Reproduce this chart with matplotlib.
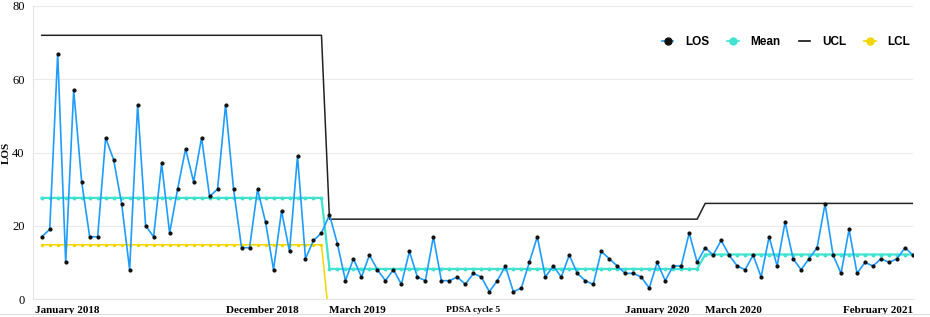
import numpy as np
import matplotlib
matplotlib.use("Agg")
import matplotlib.pyplot as plt
import matplotlib.transforms as mtransforms
from matplotlib.lines import Line2D

# LOS per point, three phases
los = [17, 19, 67, 10, 57, 32, 17, 17, 44, 38, 26, 8, 53, 20, 17, 37, 18, 30,
       41, 32, 44, 28, 30, 53, 30, 14, 14, 30, 21, 8, 24, 13, 39, 11, 16, 18,
       23, 15, 5, 11, 6, 12, 8, 5, 8, 4, 13, 6, 5, 17, 5, 5, 6, 4, 7,
       6, 2, 5, 9, 2, 3, 10, 17, 6, 9, 6, 12, 7, 5, 4, 13, 11, 9, 7,
       7, 6, 3, 10, 5, 9, 9, 18, 10,
       14, 12, 16, 12, 9, 8, 12, 6, 17, 9, 21, 11, 8, 11, 14, 26, 12, 7, 19,
       7, 10, 9, 11, 10, 11, 14, 12]
phase_len = [36, 47, 27]
mean_lvl = [27.6, 8.2, 12.15]
ucl_lvl = [72, 21.8, 26.1]
lcl_lvl = [14.8, -6.3, -4.5]

tick_idx = [0, 23, 36, 54, 73, 83, 109]
tick_lab = ["January 2018", "December 2018", "March 2019", "PDSA cycle 5",
            "January 2020", "March 2020", "February 2021"]

x = np.arange(len(los))
mean = np.repeat(mean_lvl, phase_len)
ucl = np.repeat(ucl_lvl, phase_len)
lcl = np.repeat(lcl_lvl, phase_len)

fig = plt.figure(figsize=(9.3, 3.17), dpi=100)
ax = fig.add_axes([33 / 930, 18 / 317, 880 / 930, 293 / 317])

ax.plot(x, ucl, color="#222222", lw=1.1, label="UCL", zorder=2)
ax.plot(x, lcl, color="#f2d600", lw=1.1, marker="o", ms=1.5, label="LCL", zorder=2)
ax.plot(x, mean, color="#40e2d0", lw=1.6, marker="o", ms=1.8, label="Mean", zorder=3)
ax.plot(x, los, color="#1e9cff", lw=1.2, marker="o", ms=2.0, mfc="#111111",
        mec="#111111", label="LOS", zorder=4)

ax.set_xlim(-1.09, 109)
ax.set_ylim(0, 80)
ax.set_yticks([0, 20, 40, 60, 80])
ax.grid(axis="y", color="#ebebeb", lw=0.8)
ax.set_axisbelow(True)
for s in ["top", "right"]:
    ax.spines[s].set_visible(False)
ax.spines["left"].set_color("#e4e4e4")
ax.spines["bottom"].set_color("#e4e4e4")
ax.tick_params(axis="y", length=0, pad=6, labelsize=9)
ax.tick_params(axis="x", length=0, pad=5)
for t in ax.get_yticklabels():
    t.set_fontfamily("Liberation Serif")

ax.set_xticks(tick_idx)
ax.set_xticklabels(tick_lab, fontfamily="Liberation Serif", fontweight="bold", fontsize=8)
labs = ax.get_xticklabels()
for t in labs:
    t.set_ha("left")
labs[0].set_transform(labs[0].get_transform() +
                      mtransforms.ScaledTranslation(-7 / 100, 0, fig.dpi_scale_trans))
labs[3].set_fontsize(6.8)
labs[3].set_ha("center")
labs[-1].set_ha("right")

ax.set_ylabel("LOS", fontfamily="Liberation Serif", fontweight="bold", fontsize=8)
ax.yaxis.set_label_coords(-0.025, 0.5)

handles = [
    Line2D([], [], color="#1e9cff", lw=1.2, marker="o", ms=5, mfc="#111111", mec="#111111"),
    Line2D([], [], color="#40e2d0", lw=1.2, marker="o", ms=5),
    Line2D([], [], color="#111111", lw=1.2),
    Line2D([], [], color="#f2d600", lw=1.2, marker="o", ms=5),
]
leg = ax.legend(handles, ["LOS", "Mean", "UCL", "LCL"], ncol=4, loc="center right",
                bbox_to_anchor=(0.997, 0.877), frameon=False, handlelength=1.0,
                handletextpad=1.0, columnspacing=1.5, borderpad=0, borderaxespad=0,
                prop={"family": "Liberation Sans", "weight": "bold", "size": 8.5})

fig.add_artist(Line2D([0, 1], [1 - 314 / 317] * 2, color="#dddddd", lw=0.8,
                      transform=fig.transFigure))

fig.savefig("out.png", dpi=100)
